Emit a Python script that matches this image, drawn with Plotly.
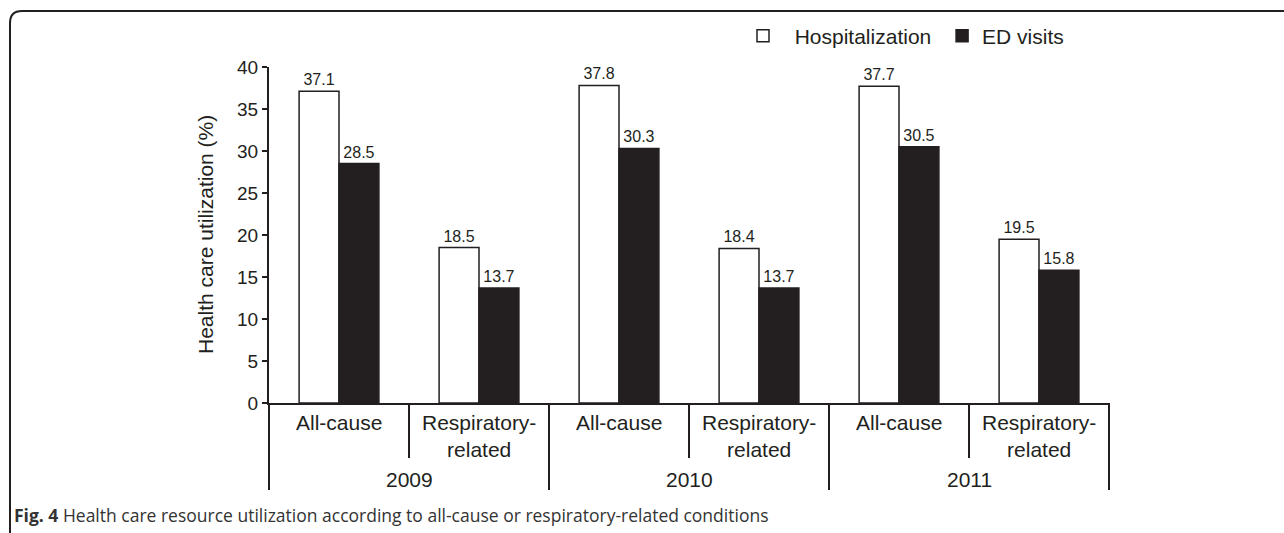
import plotly.graph_objects as go

# ---- data ----
years = ["2009", "2010", "2011"]
conditions = ["All-cause", "Respiratory-<br>related"]
hospitalization = [37.1, 18.5, 37.8, 18.4, 37.7, 19.5]
ed_visits = [28.5, 13.7, 30.3, 13.7, 30.5, 15.8]
series_names = ["Hospitalization", "ED visits"]
y_title = "Health care utilization (%)"
caption_bold = "Fig. 4"
caption_text = "Health care resource utilization according to all-cause or respiratory-related conditions"

categories = [f"{y} {c}" for y in years for c in conditions]

W, H = 1284, 533
L, R, T, B = 269, 1284 - 1109, 67, 533 - 403
PW, PH = W - L - R, H - T - B

def px(xp):
    return (xp - L) / PW

def py(yp):
    return (H - B - yp) / PH

INK = "#231f20"
FONT = "Liberation Sans, Arial, sans-serif"
NB = "\u00a0"

fig = go.Figure()
fig.add_trace(go.Bar(
    x=categories, y=hospitalization, name=NB * 2 + series_names[0] + NB,
    marker=dict(color="white", line=dict(color=INK, width=1.5)),
    text=[f"{v:.1f}" for v in hospitalization], textposition="outside",
    textfont=dict(size=16, color=INK, family=FONT), cliponaxis=False,
    constraintext="none",
))
fig.add_trace(go.Bar(
    x=categories, y=ed_visits, name=series_names[1],
    marker=dict(color=INK, line=dict(color=INK, width=1.5)),
    text=[f"{v:.1f}" for v in ed_visits], textposition="outside",
    textfont=dict(size=16, color=INK, family=FONT), cliponaxis=False,
    constraintext="none",
))

n = len(categories)
shapes = []
# separators under the x axis
for i in range(n + 1):
    full = (i % 2 == 0)
    xp = i / n
    shapes.append(dict(type="line", xref="paper", yref="paper",
                       x0=xp, x1=xp, y0=0, y1=py(490 if full else 458),
                       line=dict(color=INK, width=2)))
# outer frame (top + left with rounded corner)
shapes.append(dict(type="path", xref="paper", yref="paper",
                   path=f"M {px(10)},{py(535)} L {px(10)},{py(23)} Q {px(10)},{py(11)} {px(22)},{py(11)} L {px(1286)},{py(11)}",
                   line=dict(color=INK, width=2)))

annotations = []
for i, cat in enumerate(categories):
    cond = conditions[i % 2]
    annotations.append(dict(x=i, y=py(409), xref="x", yref="paper", text=cond,
                            showarrow=False, yanchor="top", xanchor="center",
                            font=dict(size=21, color=INK, family=FONT)))
for j, yr in enumerate(years):
    annotations.append(dict(x=2 * j + 0.5, y=py(479), xref="x", yref="paper", text=yr,
                            showarrow=False, yanchor="middle", xanchor="center",
                            font=dict(size=21, color=INK, family=FONT)))
annotations.append(dict(x=px(205), y=py(235), xref="paper", yref="paper", text=y_title,
                        textangle=-90, showarrow=False, xanchor="center", yanchor="middle",
                        font=dict(size=21, color=INK, family=FONT)))
annotations.append(dict(x=px(12), y=py(515), xref="paper", yref="paper",
                        text=f"<b>{caption_bold}</b> {caption_text}",
                        showarrow=False, xanchor="left", yanchor="middle",
                        font=dict(size=17.5, color="#333333", family="Open Sans, sans-serif")))

fig.update_layout(
    width=W, height=H,
    margin=dict(l=L, r=R, t=T, b=B, pad=0),
    paper_bgcolor="white", plot_bgcolor="white",
    barmode="group", bargap=0.43, bargroupgap=0,
    showlegend=True,
    legend=dict(orientation="h", x=px(743), y=py(36), xanchor="left", yanchor="middle",
                font=dict(size=21, color=INK, family=FONT), bgcolor="rgba(0,0,0,0)",
                itemclick=False, itemdoubleclick=False, tracegroupgap=0),
    shapes=shapes, annotations=annotations,
    xaxis=dict(type="category", range=[-0.5, n - 0.5], showticklabels=False, ticks="",
               showline=True, linecolor=INK, linewidth=2, showgrid=False, zeroline=False,
               fixedrange=True),
    yaxis=dict(range=[0, 40], dtick=5, tick0=0, showline=True, linecolor=INK, linewidth=2,
               ticks="outside", ticklen=5, tickwidth=2, tickcolor=INK, showgrid=False,
               zeroline=False, tickfont=dict(size=19, color=INK, family=FONT),
               fixedrange=True),
    font=dict(family=FONT, color=INK),
)

fig.write_html("out.html", config={"displayModeBar": False},
               post_script="document.body.style.margin='0';document.body.style.overflow='hidden';")
